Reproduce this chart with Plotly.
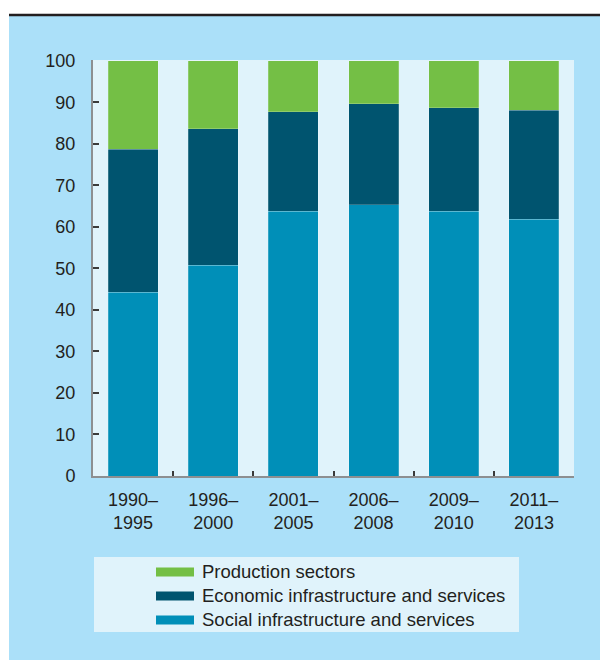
import plotly.graph_objects as go

categories = ["1990–<br>1995", "1996–<br>2000", "2001–<br>2005", "2006–<br>2008", "2009–<br>2010", "2011–<br>2013"]
social = [44.3, 50.8, 63.8, 65.3, 63.8, 61.9]
economic = [34.4, 32.8, 23.9, 24.4, 24.9, 26.2]
production = [21.3, 16.4, 12.3, 10.3, 11.3, 11.9]
series_names = ["Production sectors", "Economic infrastructure and services", "Social infrastructure and services"]
y_ticks = list(range(0, 101, 10))

C_PROD = "#74BF45"
C_ECON = "#00546F"
C_SOC = "#008FB8"
BG = "#ABE0F9"
PLOT_BG = "#E0F3FB"
TXT = "#231F20"
FONT = "Liberation Sans, Arial, sans-serif"

# the page has an 8px body margin; work in page pixels and convert
OFF = 8
PAGE_W, PAGE_H = 608, 660
W, H = PAGE_W - OFF, PAGE_H - OFF
# plot area in page pixels
PX_L, PX_R, PX_T, PX_B = 93, 574, 60, 476
L, R, T, B = PX_L - OFF, W - (PX_R - OFF), PX_T - OFF, H - (PX_B - OFF)
PW, PH = W - L - R, H - T - B


def fx(px):
    return (px - PX_L) / PW


def fy(py):
    return (PX_B - py) / PH


fig = go.Figure()
line = dict(color="rgba(255,255,255,0.25)", width=0.8)
fig.add_trace(go.Bar(x=categories, y=social, name=series_names[2], marker=dict(color=C_SOC, line=line)))
fig.add_trace(go.Bar(x=categories, y=economic, name=series_names[1], marker=dict(color=C_ECON, line=line)))
fig.add_trace(go.Bar(x=categories, y=production, name=series_names[0], marker=dict(color=C_PROD, line=line)))

shapes = [
    # white top strip and left strip
    dict(type="rect", xref="paper", yref="paper", x0=fx(0), x1=fx(PAGE_W), y0=fy(15), y1=fy(0),
         fillcolor="white", line_width=0, layer="above"),
    dict(type="rect", xref="paper", yref="paper", x0=fx(0), x1=fx(9), y0=fy(PAGE_H), y1=fy(0),
         fillcolor="white", line_width=0, layer="above"),
    # black top rule
    dict(type="line", xref="paper", yref="paper", x0=fx(9), x1=fx(PAGE_W), y0=fy(15), y1=fy(15),
         line=dict(color=TXT, width=2.5), layer="above"),
    # legend box
    dict(type="rect", xref="paper", yref="paper", x0=fx(94), x1=fx(519), y0=fy(632), y1=fy(557),
         fillcolor=PLOT_BG, line_width=0, layer="above"),
]

annotations = []
legend_rows = [(series_names[0], C_PROD, 572), (series_names[1], C_ECON, 596), (series_names[2], C_SOC, 620)]
for name, col, cy in legend_rows:
    shapes.append(dict(type="rect", xref="paper", yref="paper", x0=fx(156), x1=fx(194),
                       y0=fy(cy + 4.5), y1=fy(cy - 4.5), fillcolor=col, line_width=0, layer="above"))
    annotations.append(dict(text=name, xref="paper", yref="paper", x=fx(200), y=fy(cy - 0.5),
                            xanchor="left", yanchor="middle", showarrow=False,
                            font=dict(size=18.5, color=TXT, family=FONT)))

fig.update_layout(
    width=W, height=H,
    margin=dict(l=L, r=R, t=T, b=B, pad=0),
    paper_bgcolor=BG,
    plot_bgcolor=PLOT_BG,
    barmode="stack",
    bargap=0.375,
    showlegend=False,
    font=dict(family=FONT, size=18, color=TXT),
    shapes=shapes,
    annotations=annotations,
    xaxis=dict(
        type="category", tickson="boundaries", ticks="inside", ticklen=5, tickwidth=1.5,
        tickcolor="#3a3a3a", showline=True, linecolor="#8d8f91", linewidth=2,
        showgrid=False, zeroline=False, ticklabelstandoff=6,
        tickfont=dict(size=18, color=TXT, family=FONT),
    ),
    yaxis=dict(
        range=[0, 100.2], tickvals=y_ticks, ticks="inside", ticklen=6, tickwidth=1.5,
        tickcolor="#3a3a3a", showline=True, linecolor="#8d8f91", linewidth=2,
        showgrid=False, zeroline=False, ticklabelstandoff=12,
        tickfont=dict(size=18, color=TXT, family=FONT),
    ),
)

fig.write_html("out.html")
